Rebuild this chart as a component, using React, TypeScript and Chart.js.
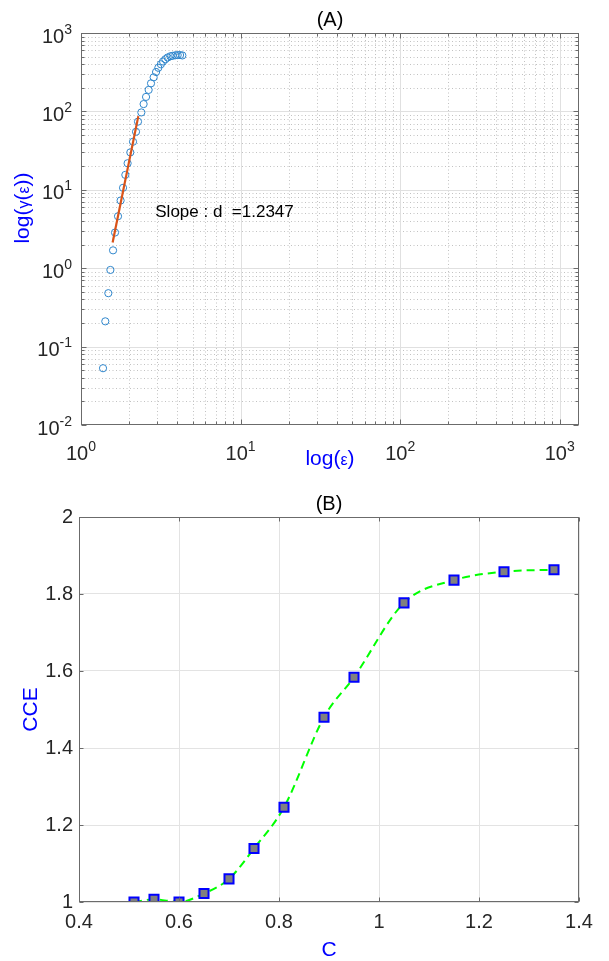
import React, { useEffect, useRef } from "react";
import { Chart, registerables } from "chart.js";
Chart.register(...registerables);

// ---------- Panel (A) data ----------
const epsValues = [1.374, 1.42, 1.483, 1.528, 1.588, 1.634, 1.706, 1.771, 1.834, 1.896, 1.959, 2.037, 2.118, 2.212, 2.276, 2.388, 2.468, 2.556, 2.654, 2.746, 2.852, 2.953, 3.052, 3.166, 3.266, 3.378, 3.491, 3.63, 3.753, 3.902, 4.034, 4.176, 4.317];
const gammaValues = [0.053, 0.21, 0.48, 0.95, 1.69, 2.85, 4.6, 7.3, 10.6, 15.5, 21.8, 30, 41, 55, 74, 97, 124, 153, 188, 228, 272, 318, 360, 399, 433, 463, 487, 505, 512, 520, 523, 523, 517];
const fitEps = [1.578, 2.287];
const fitGamma = [2.13, 87];
const slopeLabel = "Slope : d  =1.2347";
const slopeLabelAt = { x: 2.92, y: 4.5 };
const xRangeA = { min: 1, max: 1320 };
const yRangeA = { min: 0.01, max: 1000 };
const xExponentsA = [0, 1, 2, 3];
const yExponentsA = [-2, -1, 0, 1, 2, 3];
const titleA = "(A)";

// ---------- Panel (B) data ----------
const cValues = [0.51, 0.55, 0.6, 0.65, 0.7, 0.75, 0.81, 0.89, 0.95, 1.05, 1.15, 1.25, 1.35];
const cceValues = [1.0, 1.007, 1.0, 1.022, 1.06, 1.139, 1.246, 1.48, 1.584, 1.777, 1.836, 1.858, 1.863];
const xRangeB = { min: 0.4, max: 1.4, step: 0.2 };
const yRangeB = { min: 1, max: 2, step: 0.2 };
const titleB = "(B)";

const FONT = '"Liberation Sans", Arial, Helvetica, sans-serif';
const TICK_COLOR = "#262626";
const BOX_COLOR = "#6b6b6b";
const LABEL_BLUE = "#0000ff";

type Run = { t: string; s: number; dy?: number };

function runsWidth(ctx: CanvasRenderingContext2D, runs: Run[]) {
  let w = 0;
  for (const r of runs) {
    ctx.font = `${r.s}px ${FONT}`;
    w += ctx.measureText(r.t).width;
  }
  return w;
}

function drawRuns(ctx: CanvasRenderingContext2D, runs: Run[], x: number, y: number, align: "left" | "center" | "right") {
  const w = runsWidth(ctx, runs);
  let cx = align === "left" ? x : align === "center" ? x - w / 2 : x - w;
  ctx.textAlign = "left";
  ctx.textBaseline = "alphabetic";
  for (const r of runs) {
    ctx.font = `${r.s}px ${FONT}`;
    ctx.fillText(r.t, cx, y + (r.dy || 0));
    cx += ctx.measureText(r.t).width;
  }
}

function logValues(min: number, max: number) {
  const out: { v: number; major: boolean }[] = [];
  for (let p = Math.floor(Math.log10(min)); p <= Math.ceil(Math.log10(max)); p++) {
    for (let m = 1; m <= 9; m++) {
      const v = m * Math.pow(10, p);
      if (v >= min * 0.9999 && v <= max * 1.0001) out.push({ v, major: m === 1 });
    }
  }
  return out;
}

const fmtTick = (v: number) => String(Math.round(v * 10) / 10);

const panelAPlugin = {
  id: "panelA",
  beforeDatasetsDraw(chart: any) {
    const { ctx, chartArea: a, scales } = chart;
    const xs = scales.x;
    const ys = scales.y;
    ctx.save();
    ctx.beginPath();
    ctx.rect(a.left, a.top, a.right - a.left, a.bottom - a.top);
    ctx.clip();
    ctx.lineWidth = 1;
    const xv = logValues(xRangeA.min, xRangeA.max);
    const yv = logValues(yRangeA.min, yRangeA.max);
    ctx.strokeStyle = "#c2c2c2";
    ctx.setLineDash([1, 2.5]);
    ctx.beginPath();
    for (const t of xv) {
      if (t.major) continue;
      const px = Math.round(xs.getPixelForValue(t.v)) + 0.5;
      ctx.moveTo(px, a.top);
      ctx.lineTo(px, a.bottom);
    }
    for (const t of yv) {
      if (t.major) continue;
      const py = Math.round(ys.getPixelForValue(t.v)) + 0.5;
      ctx.moveTo(a.left, py);
      ctx.lineTo(a.right, py);
    }
    ctx.stroke();
    ctx.setLineDash([]);
    ctx.strokeStyle = "#e0e0e0";
    ctx.beginPath();
    for (const t of xv) {
      if (!t.major) continue;
      const px = Math.round(xs.getPixelForValue(t.v)) + 0.5;
      ctx.moveTo(px, a.top);
      ctx.lineTo(px, a.bottom);
    }
    for (const t of yv) {
      if (!t.major) continue;
      const py = Math.round(ys.getPixelForValue(t.v)) + 0.5;
      ctx.moveTo(a.left, py);
      ctx.lineTo(a.right, py);
    }
    ctx.stroke();
    ctx.restore();
  },
  afterDraw(chart: any) {
    const { ctx, chartArea: a, scales } = chart;
    const xs = scales.x;
    const ys = scales.y;
    ctx.save();
    ctx.strokeStyle = BOX_COLOR;
    ctx.lineWidth = 1;
    ctx.setLineDash([]);
    const L = Math.round(a.left) + 0.5, R = Math.round(a.right) - 0.5;
    const T = Math.round(a.top) + 0.5, B = Math.round(a.bottom) - 0.5;
    ctx.strokeRect(L, T, R - L, B - T);
    ctx.beginPath();
    for (const t of logValues(xRangeA.min, xRangeA.max)) {
      const px = Math.round(xs.getPixelForValue(t.v)) + 0.5;
      const len = t.major ? 5 : 3;
      ctx.moveTo(px, B); ctx.lineTo(px, B - len);
      ctx.moveTo(px, T); ctx.lineTo(px, T + len);
    }
    for (const t of logValues(yRangeA.min, yRangeA.max)) {
      const py = Math.round(ys.getPixelForValue(t.v)) + 0.5;
      const len = t.major ? 5 : 3;
      ctx.moveTo(L, py); ctx.lineTo(L + len, py);
      ctx.moveTo(R, py); ctx.lineTo(R - len, py);
    }
    ctx.stroke();
    ctx.fillStyle = TICK_COLOR;
    for (const p of xExponentsA) {
      const px = xs.getPixelForValue(Math.pow(10, p));
      drawRuns(ctx, [{ t: "10", s: 20 }, { t: String(p), s: 14, dy: -9 }], px, a.bottom + 35, "center");
    }
    for (const p of yExponentsA) {
      const py = ys.getPixelForValue(Math.pow(10, p));
      drawRuns(ctx, [{ t: "10", s: 20 }, { t: String(p), s: 14, dy: -9 }], a.left - 9, py + 9.5, "right");
    }
    ctx.fillStyle = "#000";
    drawRuns(ctx, [{ t: titleA, s: 20 }], (a.left + a.right) / 2, a.top - 7, "center");
    ctx.fillStyle = LABEL_BLUE;
    drawRuns(ctx, [{ t: "log(", s: 21 }, { t: "ε", s: 16 }, { t: ")", s: 21 }], (a.left + a.right) / 2, a.bottom + 40, "center");
    ctx.save();
    ctx.translate(29, 208);
    ctx.rotate(-Math.PI / 2);
    drawRuns(ctx, [{ t: "log(", s: 21 }, { t: "γ", s: 16 }, { t: "(", s: 21 }, { t: "ε", s: 16 }, { t: "))", s: 21 }], 0, 0, "center");
    ctx.restore();
    ctx.fillStyle = "#000";
    drawRuns(ctx, [{ t: slopeLabel, s: 17 }], xs.getPixelForValue(slopeLabelAt.x), ys.getPixelForValue(slopeLabelAt.y), "left");
    ctx.restore();
  },
};

const panelBPlugin = {
  id: "panelB",
  afterDraw(chart: any) {
    const { ctx, chartArea: a, scales } = chart;
    const xs = scales.x;
    const ys = scales.y;
    ctx.save();
    ctx.strokeStyle = BOX_COLOR;
    ctx.lineWidth = 1;
    ctx.setLineDash([]);
    const L = Math.round(a.left) + 0.5, R = Math.round(a.right) - 0.5;
    const T = Math.round(a.top) + 0.5, B = Math.round(a.bottom) - 0.5;
    ctx.strokeRect(L, T, R - L, B - T);
    ctx.beginPath();
    for (const t of xs.ticks) {
      const px = Math.round(xs.getPixelForValue(t.value)) + 0.5;
      ctx.moveTo(px, B); ctx.lineTo(px, B - 4);
      ctx.moveTo(px, T); ctx.lineTo(px, T + 4);
    }
    for (const t of ys.ticks) {
      const py = Math.round(ys.getPixelForValue(t.value)) + 0.5;
      ctx.moveTo(L, py); ctx.lineTo(L + 4, py);
      ctx.moveTo(R, py); ctx.lineTo(R - 4, py);
    }
    ctx.stroke();
    ctx.fillStyle = "#000";
    drawRuns(ctx, [{ t: titleB, s: 20 }], (a.left + a.right) / 2, a.top - 7, "center");
    ctx.fillStyle = LABEL_BLUE;
    drawRuns(ctx, [{ t: "C", s: 21 }], (a.left + a.right) / 2, a.bottom + 54, "center");
    ctx.save();
    ctx.translate(37, (a.top + a.bottom) / 2);
    ctx.rotate(-Math.PI / 2);
    drawRuns(ctx, [{ t: "CCE", s: 21 }], 0, 0, "center");
    ctx.restore();
    ctx.restore();
  },
};

export default function App() {
  const refA = useRef<HTMLCanvasElement | null>(null);
  const refB = useRef<HTMLCanvasElement | null>(null);

  useEffect(() => {
    const chartA = new Chart(refA.current as HTMLCanvasElement, {
      type: "scatter",
      data: {
        datasets: [
          {
            data: epsValues.map((e, i) => ({ x: e, y: gammaValues[i] })),
            pointStyle: "circle",
            pointRadius: 3.6,
            borderColor: "#2f86cc",
            backgroundColor: "rgba(0,0,0,0)",
            borderWidth: 1,
            order: 1,
          },
          {
            data: fitEps.map((e, i) => ({ x: e, y: fitGamma[i] })),
            showLine: true,
            pointRadius: 0,
            borderColor: "#D95319",
            borderWidth: 2.2,
            order: 0,
          },
        ],
      } as any,
      options: {
        animation: false,
        responsive: false,
        devicePixelRatio: 1,
        layout: { padding: { top: 33, right: 30, left: 0, bottom: 0 } },
        plugins: { legend: { display: false }, tooltip: { enabled: false }, title: { display: false } },
        scales: {
          x: {
            type: "logarithmic",
            min: xRangeA.min,
            max: xRangeA.max,
            bounds: "data",
            ticks: { display: false },
            grid: { display: false },
            border: { display: false },
            afterFit: (s: any) => { s.height = 55; },
          },
          y: {
            type: "logarithmic",
            min: yRangeA.min,
            max: yRangeA.max,
            bounds: "data",
            ticks: { display: false },
            grid: { display: false },
            border: { display: false },
            afterFit: (s: any) => { s.width = 81; },
          },
        },
      } as any,
      plugins: [panelAPlugin],
    });

    const chartB = new Chart(refB.current as HTMLCanvasElement, {
      type: "line",
      data: {
        datasets: [
          {
            data: cValues.map((c, i) => ({ x: c, y: cceValues[i] })),
            borderColor: "#00ff00",
            borderWidth: 2,
            borderDash: [8, 5],
            cubicInterpolationMode: "monotone",
            fill: false,
            pointStyle: "rect",
            pointRadius: 6.4,
            pointBackgroundColor: "#808080",
            pointBorderColor: "#0000ff",
            pointBorderWidth: 2,
          },
        ],
      } as any,
      options: {
        animation: false,
        responsive: false,
        devicePixelRatio: 1,
        layout: { padding: { top: 37, right: 30, left: 0, bottom: 0 } },
        plugins: { legend: { display: false }, tooltip: { enabled: false }, title: { display: false } },
        scales: {
          x: {
            type: "linear",
            min: xRangeB.min,
            max: xRangeB.max,
            ticks: { stepSize: xRangeB.step, padding: 8, color: TICK_COLOR, font: { family: FONT, size: 20 }, maxRotation: 0, autoSkip: false, callback: (v: any) => fmtTick(Number(v)) },
            grid: { color: "#e3e3e3", drawTicks: false },
            border: { display: false },
            afterFit: (s: any) => { s.height = 59; },
          },
          y: {
            type: "linear",
            min: yRangeB.min,
            max: yRangeB.max,
            ticks: { stepSize: yRangeB.step, padding: 6, color: TICK_COLOR, font: { family: FONT, size: 20 }, callback: (v: any) => fmtTick(Number(v)) },
            grid: { color: "#e3e3e3", drawTicks: false },
            border: { display: false },
            afterFit: (s: any) => { s.width = 79; },
          },
        },
      } as any,
      plugins: [panelBPlugin],
    });

    return () => {
      chartA.destroy();
      chartB.destroy();
    };
  }, []);

  return (
    <div style={{ position: "absolute", left: 0, top: 0, width: 609, height: 961, background: "#fff" }}>
      <canvas ref={refA} width={609} height={480} style={{ display: "block", width: 609, height: 480 }} />
      <canvas ref={refB} width={609} height={481} style={{ display: "block", width: 609, height: 481 }} />
    </div>
  );
}
